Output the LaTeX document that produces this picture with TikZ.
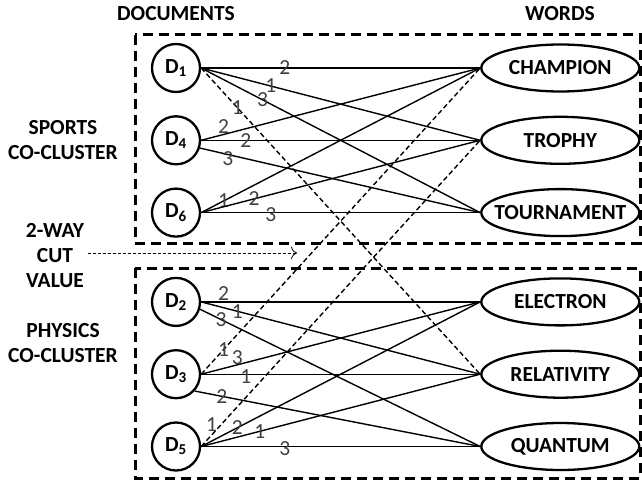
\documentclass[tikz,border=0pt]{standalone}
\usepackage{fontspec}
\setmainfont{Carlito}
\usepackage{tikz}
\usetikzlibrary{arrows.meta,positioning,shapes.geometric}
\newcommand{\lblsize}{\fontsize{21.5}{25}\selectfont}

\begin{document}
\begin{tikzpicture}[
  x=1pt, y=-1pt,
  node distance=22pt and 279pt,
  doc/.style={draw, circle, line width=2.3pt, minimum size=48pt, inner sep=0pt,
    fill=white, font=\lblsize\bfseries},
  word/.style={draw, ellipse, line width=2.3pt, minimum width=158pt,
    minimum height=47pt, inner xsep=-12pt, inner ysep=0pt, fill=white,
    font=\lblsize\bfseries},
  head/.style={align=center, font=\lblsize\bfseries},
  weight/.style={inner sep=0pt, text=black!75, font=\lblsize},
  link/.style={line width=1.4pt},
  cutlink/.style={line width=1.4pt, dash pattern=on 5pt off 3pt},
  cluster/.style={line width=3pt, dash pattern=on 10pt off 6pt},
  cutarrow/.style={-{To[length=6pt]}, line width=0.8pt, dash pattern=on 3pt off 2pt}
]
\useasboundingbox (0,0) rectangle (642,481);

% documents
\node[doc] (d1) at (176,68) {D\textsubscript{1}};
\node[doc, below=of d1] (d4) {D\textsubscript{4}};
\node[doc, below=of d4] (d6) {D\textsubscript{6}};
\node[doc, below=39pt of d6] (d2) {D\textsubscript{2}};
\node[doc, below=of d2] (d3) {D\textsubscript{3}};
\node[doc, below=of d3] (d5) {D\textsubscript{5}};

% words
\node[word, right=of d1] (champion)   {CHAMPION};
\node[word, right=of d4] (trophy)     {TROPHY};
\node[word, right=of d6] (tournament) {TOURNAMENT};
\node[word, right=of d2] (electron)   {ELECTRON};
\node[word, right=of d3] (relativity) {RELATIVITY};
\node[word, right=of d5] (quantum)    {QUANTUM};

% headings and cluster names
\node[head] (dochead)  at (176,14) {DOCUMENTS};
\node[head] (wordhead) at (560,14) {WORDS};
\node[head] (sports)   at (63,140) {SPORTS\\CO-CLUSTER};
\node[head] (cutval)   at (55,256) {2-WAY\\CUT\\VALUE};
\node[head] (physics)  at (63,343) {PHYSICS\\CO-CLUSTER};

% co-cluster boxes
\draw[cluster] (135,35) rectangle (640,243);
\draw[cluster] (135,268) rectangle (640,478);

% weighted edges
\foreach \a/\b/\w/\p/\s in {
  d1.east/champion/2/0.30/0, d1.east/trophy/1/0.25/0, d1.east/tournament/3/0.22/0,
  d4.east/champion/2/0.08/8, d4.east/trophy/2/0.16/0, d4.-18/tournament/3/0.10/-4,
  d6.east/champion/1/0.08/0, d6.east/trophy/2/0.19/0, d6.east/tournament/3/0.25/-2,
  d2.east/electron/2/0.08/8, d2.east/relativity/1/0.13/0, d2.-17/quantum/3/0.075/0,
  d3.east/electron/3/0.13/7, d3.east/relativity/1/0.16/-2, d3.-42/quantum/2/0.095/0,
  d5.east/electron/2/0.13/0, d5.east/relativity/1/0.21/0, d5.east/quantum/3/0.30/-2}
  \draw[link] (\a) -- node[weight, pos=\p, yshift=\s pt] {\w} (\b.west);

% edges cut by the partition
\foreach \a/\b/\p/\s in {d1/relativity/0.13/0, d3/champion/0.08/0, d5/trophy/0.07/-9}
  \draw[cutlink] (\a.east) -- node[weight, pos=\p, xshift=\s pt] {1} (\b.west);

\coordinate (cutend) at (297,253);
\draw[cutarrow] (cutval.east |- cutend) -- (cutend);
\end{tikzpicture}
\end{document}
